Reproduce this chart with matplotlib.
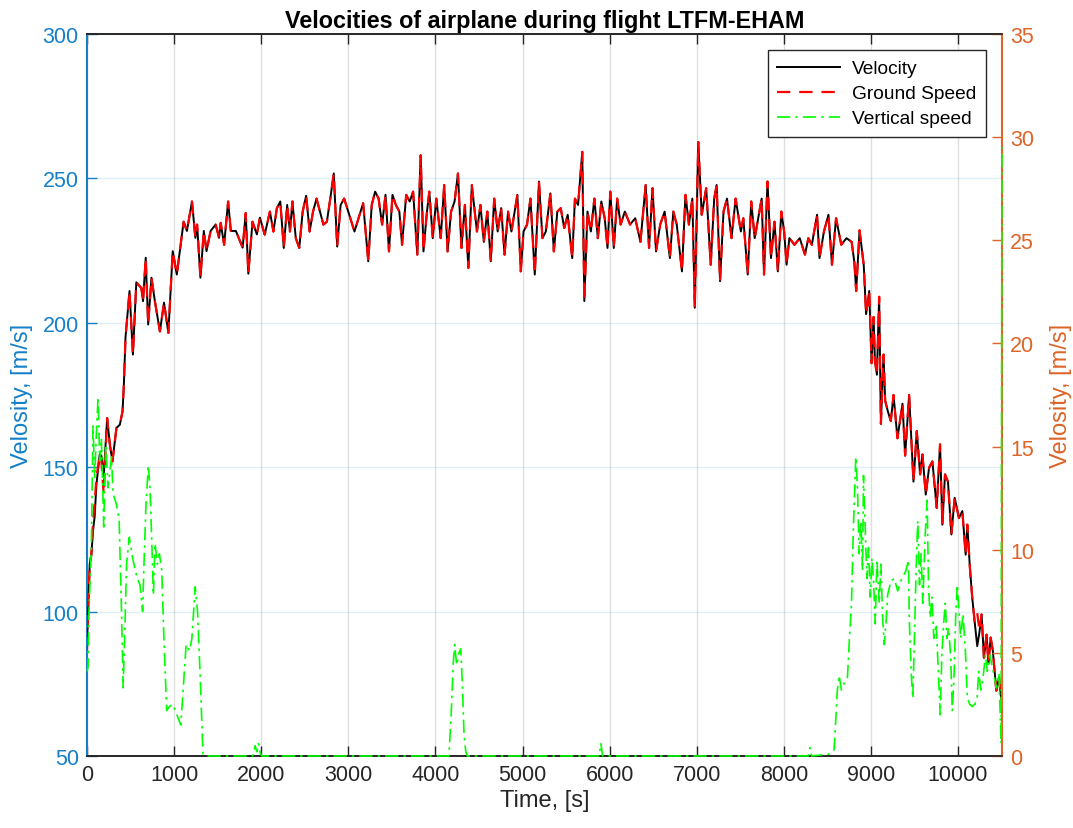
import matplotlib
matplotlib.use('Agg')
import matplotlib.pyplot as plt

# ---------------- data ----------------
t_vel = [0, 12, 31, 50, 69, 88, 108, 146, 165, 192, 231, 262, 292, 338, 377, 408, 423,
         442, 488, 527, 566, 624, 643, 674, 702, 740, 779, 837, 884, 934, 984, 1031,
         1109, 1147, 1205, 1244, 1264, 1302, 1341, 1372, 1419, 1477, 1516, 1535, 1574,
         1620, 1651, 1709, 1787, 1822, 1852, 1900, 1950, 1985, 2040, 2100, 2140, 2180,
         2219, 2259, 2298, 2330, 2358, 2397, 2437, 2476, 2516, 2556, 2595, 2635, 2675,
         2714, 2754, 2793, 2833, 2872, 2912, 2952, 3011, 3071, 3130, 3170, 3229, 3269,
         3308, 3348, 3388, 3427, 3467, 3507, 3546, 3586, 3617, 3665, 3705, 3744, 3792,
         3831, 3863, 3903, 3930, 3970, 4010, 4061, 4101, 4140, 4180, 4220, 4259, 4299,
         4339, 4378, 4418, 4477, 4517, 4556, 4596, 4636, 4675, 4715, 4755, 4794, 4834,
         4873, 4941, 4980, 5012, 5052, 5091, 5141, 5189, 5229, 5268, 5320, 5360, 5400,
         5439, 5479, 5519, 5571, 5602, 5638, 5686, 5710, 5746, 5785, 5825, 5865, 5905,
         5944, 5976, 6008, 6048, 6087, 6127, 6175, 6235, 6294, 6354, 6414, 6453, 6493,
         6533, 6581, 6632, 6692, 6732, 6771, 6831, 6871, 6911, 6950, 6978, 7018, 7058,
         7109, 7161, 7201, 7229, 7268, 7308, 7348, 7400, 7447, 7507, 7535, 7586, 7626,
         7666, 7706, 7746, 7773, 7813, 7853, 7893, 7932, 7972, 8004, 8032, 8064, 8123,
         8183, 8243, 8282, 8322, 8382, 8410, 8461, 8513, 8553, 8600, 8660, 8720, 8779,
         8810, 8831, 8870, 8918, 8945, 8981, 9008, 9031, 9046, 9069, 9095, 9115, 9145,
         9164, 9198, 9229, 9260, 9305, 9363, 9393, 9439, 9489, 9527, 9565, 9592, 9630,
         9668, 9706, 9756, 9794, 9821, 9851, 9885, 9924, 9962, 10011, 10050, 10088,
         10107, 10137, 10164, 10191, 10221, 10248, 10271, 10298, 10328, 10350, 10375,
         10400, 10440, 10472, 10505]

velocity = [88.5, 100, 116.4, 119.8, 128, 133, 144, 154.4, 154, 147, 167, 157.8, 152,
            163.6, 164.7, 169.4, 178.6, 195, 211, 189, 214, 212, 207.5, 222.5, 199.4,
            215.6, 207.5, 197, 207, 196.5, 224.8, 216.7, 235, 231.8, 242, 229.4, 234,
            215.6, 231.8, 224.8, 231.8, 234, 229.4, 234.6, 227, 242, 231.8, 231.8, 226,
            238, 217, 235, 230.6, 236.4, 230.5, 238.5, 231.6, 239.7, 242, 225.9, 240.8,
            231.6, 242, 229.3, 225.9, 238.5, 244, 231.6, 238.5, 243, 238.5, 234, 235,
            243, 251.7, 226.4, 240.8, 243, 237.4, 231.6, 237.4, 241.4, 221.3, 240.8,
            245.4, 243, 234, 244.3, 224.7, 244.3, 240.8, 238.5, 227, 244.3, 242, 245.4,
            223.6, 258, 224.7, 238.5, 245.4, 229.3, 243, 229.3, 247.7, 224.7, 238.5,
            242, 251.7, 225.9, 240.8, 219, 247.7, 231.6, 240.8, 228, 238.5, 221.3, 243,
            231.6, 239.7, 223.6, 238.5, 231.6, 244.3, 217.8, 231.6, 234, 243, 216.7,
            248.9, 229.3, 231.6, 244.8, 224.7, 238.5, 239.7, 232.8, 237.4, 222.4, 243,
            240.8, 259.2, 207.5, 238.5, 231.6, 243, 229.3, 242, 236.2, 225.9, 245.4,
            225.9, 243, 234, 238.5, 234, 236.2, 228, 247.7, 225.9, 246.6, 224.7, 234,
            238.5, 222.4, 238.5, 234, 217.8, 244.3, 234, 243, 205.2, 262.6, 237.4,
            246.6, 220.1, 243, 247.7, 214.4, 238.5, 243, 229.3, 243, 231.6, 236.2,
            216.7, 242, 229.3, 236.2, 243, 216.7, 248.9, 222.4, 235, 217.8, 238.5,
            231.6, 220.1, 229.3, 227, 229.3, 223.6, 229.3, 227, 237.4, 222.4, 231.6,
            237.4, 220.1, 236.2, 227, 229.3, 228, 221, 211, 232, 220, 203, 211, 186,
            202, 187, 182, 209, 165, 189, 173, 169, 166, 175, 160, 172, 154, 175, 145,
            162.5, 147.5, 154.4, 140.5, 149.8, 152, 135.9, 157.9, 130.1, 147.5, 145,
            126.7, 139.4, 132.4, 134.8, 119.7, 130.1, 115.1, 104.7, 96.6, 88, 93.2, 99,
            84, 92, 82, 91, 86.5, 72.6, 77.2, 67]

ground_speed = [86.5, 100, 116.4, 119.8, 131.3, 138, 146.3, 154.4, 152, 140.5, 167, 157.8,
                152, 163.6, 164.7, 169.4, 178.6, 195, 211, 189, 214, 212, 207.5, 222.5,
                199.4, 215.6, 207.5, 197, 207, 196.5, 224.8, 216.7, 235, 231.8, 242,
                229.4, 234, 215.6, 231.8, 224.8, 231.8, 234, 229.4, 234.6, 227, 242,
                231.8, 231.8, 226, 238, 217, 235, 230.6, 236.4, 230.5, 238.5, 231.6,
                239.7, 242, 225.9, 240.8, 231.6, 242, 229.3, 225.9, 238.5, 244, 231.6,
                238.5, 243, 238.5, 234, 235, 243, 251.7, 226.4, 240.8, 243, 237.4, 231.6,
                237.4, 241.4, 221.3, 240.8, 245.4, 243, 234, 244.3, 224.7, 244.3, 240.8,
                238.5, 227, 244.3, 242, 245.4, 223.6, 258, 224.7, 238.5, 245.4, 229.3,
                243, 229.3, 247.7, 224.7, 238.5, 242, 251.7, 225.9, 240.8, 219, 247.7,
                231.6, 240.8, 228, 238.5, 221.3, 243, 231.6, 239.7, 223.6, 238.5, 231.6,
                244.3, 217.8, 231.6, 234, 243, 216.7, 248.9, 229.3, 231.6, 244.8, 224.7,
                238.5, 239.7, 232.8, 237.4, 222.4, 243, 240.8, 259.2, 207.5, 238.5,
                231.6, 243, 229.3, 242, 236.2, 225.9, 245.4, 225.9, 243, 234, 238.5, 234,
                236.2, 228, 247.7, 225.9, 246.6, 224.7, 234, 238.5, 222.4, 238.5, 234,
                217.8, 244.3, 234, 243, 205.2, 262.6, 237.4, 246.6, 220.1, 243, 247.7,
                214.4, 238.5, 243, 229.3, 243, 231.6, 236.2, 216.7, 242, 229.3, 236.2,
                243, 216.7, 248.9, 222.4, 235, 217.8, 238.5, 231.6, 220.1, 229.3, 227,
                229.3, 223.6, 229.3, 227, 237.4, 222.4, 231.6, 237.4, 220.1, 236.2, 227,
                229.3, 228, 221, 211, 232, 220, 203, 211, 186, 202, 187, 182, 209, 165,
                189, 173, 169, 166, 175, 160, 172, 154, 175, 145, 162.5, 147.5, 154.4,
                140.5, 149.8, 152, 135.9, 157.9, 130.1, 147.5, 145, 126.7, 139.4, 132.4,
                134.8, 119.7, 130.1, 115.1, 104.7, 96.6, 99.5, 93.2, 99, 84, 92, 82, 91,
                86.5, 72.6, 77.2, 67]

t_vs = [0, 12, 23, 50, 69, 88, 108, 127, 146, 165, 192, 215, 242, 281, 300, 338, 369,
        396, 415, 435, 454, 485, 523, 550, 577, 608, 638, 654, 677, 704, 723, 742, 762,
        781, 808, 831, 858, 885, 915, 946, 985, 1031, 1077, 1108, 1138, 1177, 1204,
        1242, 1269, 1300, 1331, 1358, 1900, 1930, 1950, 1970, 1990, 2010, 4155, 4182,
        4205, 4221, 4244, 4271, 4291, 4310, 4329, 4349, 4368, 5880, 5900, 5920, 8280,
        8300, 8320, 8538, 8577, 8596, 8615, 8635, 8662, 8700, 8731, 8750, 8777, 8800,
        8827, 8846, 8865, 8885, 8904, 8915, 8935, 8954, 8973, 8992, 9012, 9031, 9050,
        9069, 9096, 9115, 9135, 9154, 9173, 9192, 9231, 9269, 9308, 9346, 9404, 9431,
        9442, 9462, 9481, 9500, 9519, 9538, 9558, 9577, 9596, 9623, 9646, 9662, 9681,
        9700, 9723, 9750, 9777, 9796, 9815, 9835, 9854, 9873, 9892, 9915, 9935, 9954,
        9973, 9992, 10012, 10031, 10058, 10085, 10108, 10135, 10162, 10192, 10219,
        10238, 10262, 10288, 10315, 10338, 10365, 10400, 10440, 10470, 10495, 10505]

vertical_speed = [4.1, 4.3, 7, 10.3, 16, 13.5, 15.7, 17.4, 14.3, 15.4, 11.1, 15.1, 13,
                  14.5, 12.7, 12.2, 11.4, 7, 3.3, 6.2, 9.3, 10.6, 9.6, 9.1, 8.6, 8.3, 7,
                  9.3, 12.2, 14.1, 13, 10.6, 7.8, 10.3, 9.3, 9.8, 9, 5.4, 2.2, 2.4, 2.5,
                  2, 1.5, 3.5, 5.4, 5.1, 5.7, 8.2, 7, 3.8, 0.1, 0, 0, 0.5, 0.2, 0.6, 0.1,
                  0, 0, 2.1, 4.5, 5.4, 4.4, 5.0, 5.2, 3.4, 1.0, 0.2, 0, 0, 0.6, 0, 0, 0.4,
                  0, 0.1, 0.3, 1.7, 3.2, 3.9, 3.2, 3.6, 3.8, 5.4, 7.4, 11.2, 14.5, 13,
                  9.8, 11.4, 9, 13.6, 11.1, 8.6, 10.1, 7.7, 9.6, 8.5, 6.4, 9.5, 7.4, 9.3,
                  6.7, 5.4, 6.4, 7.8, 8.5, 8.6, 8, 8.5, 9, 9.5, 6.5, 4.1, 2.8, 5.7, 9,
                  11.4, 8.3, 9.8, 7.4, 10.7, 12.4, 8.2, 6.7, 7.7, 5.7, 6.4, 3.8, 2, 4.9,
                  6.4, 7.4, 5.7, 6.2, 4.9, 2.2, 3.8, 6.7, 8.3, 7, 5.7, 6.9, 5.1, 2.8, 2.5,
                  2.4, 2.5, 2.8, 4.1, 3.2, 3.8, 4.9, 4.1, 4.9, 4.2, 3.3, 4.0, 0.6, 29.5]

x_ticks = list(range(0, 10001, 1000))
left_ticks = [50, 100, 150, 200, 250, 300]
right_ticks = [0, 5, 10, 15, 20, 25, 30, 35]

# ---------------- styling ----------------
BLUE = '#1580C8'
ORANGE = '#DE6428'
DARK = '#262626'

plt.rcParams['font.family'] = ['Liberation Sans', 'DejaVu Sans']

fig = plt.figure(figsize=(10.73, 8.29), dpi=100)
ax = fig.add_axes([0.0811, 0.0869, 0.8527, 0.8709])
ax2 = ax.twinx()

l1, = ax.plot(t_vel, velocity, color='black', lw=1.4, label='Velocity', zorder=3)
l2, = ax.plot(t_vel, ground_speed, color='#FF0000', lw=1.6, ls=(0, (6, 4)),
              label='Ground Speed', zorder=4)
l3, = ax2.plot(t_vs, vertical_speed, color='#00FF00', lw=1.2, ls=(0, (8, 3, 1.5, 3)),
               label='Vertical speed', zorder=5, clip_on=False)

ax.set_xlim(0, 10505)
ax.set_ylim(50, 300)
ax2.set_ylim(0, 35)
ax.set_xticks(x_ticks)
ax.set_yticks(left_ticks)
ax2.set_yticks(right_ticks)

ax.set_axisbelow(True)
ax.grid(axis='x', color=DARK, alpha=0.15, lw=1.0)
ax.grid(axis='y', color=BLUE, alpha=0.13, lw=1.0)

for a in (ax, ax2):
    a.spines['top'].set_color(DARK)
    a.spines['bottom'].set_color(DARK)
    a.spines['top'].set_linewidth(1.2)
    a.spines['bottom'].set_linewidth(1.2)
ax.spines['left'].set_color(BLUE)
ax.spines['left'].set_linewidth(1.5)
ax.spines['right'].set_visible(False)
ax2.spines['left'].set_visible(False)
ax2.spines['right'].set_color(ORANGE)
ax2.spines['right'].set_linewidth(1.5)

ax.tick_params(axis='x', direction='in', top=True, length=7, width=1,
               colors=DARK, labelsize=15.5, pad=6)
ax.tick_params(axis='y', direction='in', length=7, width=1, colors=BLUE,
               labelsize=15.5, pad=6)
ax2.tick_params(axis='y', direction='in', length=7, width=1, colors=ORANGE,
                labelsize=15.5, pad=6)

ax.set_xlabel('Time, [s]', fontsize=17, color=DARK, labelpad=3)
ax.set_ylabel('Velosity, [m/s]', fontsize=17, color=BLUE, labelpad=7)
ax2.set_ylabel('Velosity, [m/s]', fontsize=17, color=ORANGE, labelpad=11)
ax.set_title('Velocities of airplane during flight LTFM-EHAM', fontsize=16.8,
             fontweight='bold', color='black', pad=5)

leg = ax2.legend(handles=[l1, l2, l3], loc='upper right', fancybox=False,
                 edgecolor=DARK, framealpha=1, fontsize=13.8, handlelength=3.3,
                 borderaxespad=0.85, labelspacing=0.4, borderpad=0.5,
                 handletextpad=0.6)
leg.get_frame().set_linewidth(1.0)

fig.savefig('out.png', dpi=100)
